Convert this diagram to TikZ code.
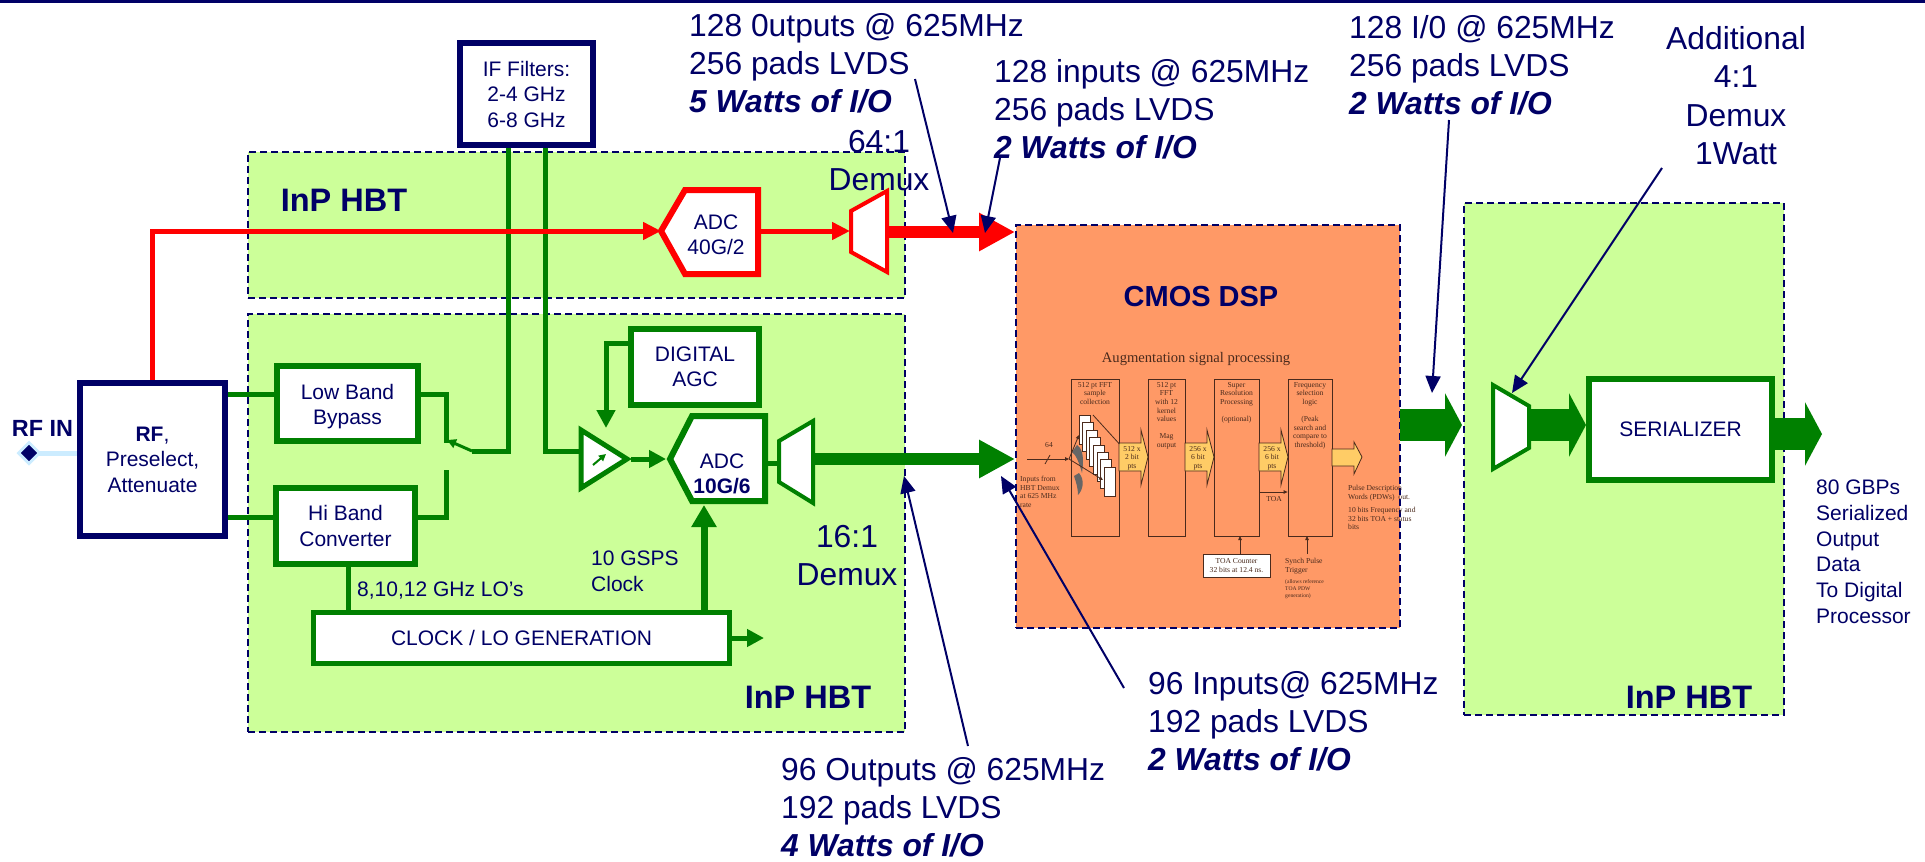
\documentclass[tikz,border=0pt]{standalone}
\usepackage{fontspec}
\setmainfont{Liberation Sans}
\newfontfamily\dspserif{Liberation Serif}
\usetikzlibrary{arrows.meta,shapes.geometric}
\definecolor{navy}{HTML}{000066}
\definecolor{grn}{HTML}{008000}
\definecolor{lime}{HTML}{CCFF99}
\definecolor{salmon}{HTML}{FF9966}
\definecolor{halo}{HTML}{CCECFF}
\definecolor{ink}{HTML}{4A2A1C}
\definecolor{pale}{HTML}{FFCC66}
\newcommand\fsz[2]{\fontsize{#1pt}{#2pt}\selectfont}
\tikzset{
  zone/.style={draw=navy,line width=2pt,dash pattern=on 7pt off 4pt,fill=lime,inner sep=0pt},
  dspzone/.style={zone,fill=salmon},
  gbox/.style={draw=grn,fill=white,line width=6pt,inner sep=0pt,align=center,text=navy,font=\fsz{21}{25.5}},
  nbox/.style={gbox,draw=navy},
  glab/.style={text=navy,inner sep=0pt,align=center,font=\fsz{21}{25.5}},
  call/.style={text=navy,inner sep=0pt,align=left,anchor=north west,font=\fsz{31.8}{38}},
  hbt/.style={text=navy,inner sep=0pt,font=\fsz{32.5}{36}\bfseries},
  gline/.style={draw=grn,line width=5pt},
  rline/.style={draw=red,line width=5pt},
  garrow/.style={gline,-{Triangle[length=17pt,width=17pt]}},
  rarrow/.style={rline,-{Triangle[length=18pt,width=17pt]}},
  bigarrow/.style={line width=12pt,-{Triangle[length=36pt,width=36pt]}},
  fatarrow/.style={draw=grn,line width=32pt,-{Triangle[length=17pt,width=63pt]}},
  callout/.style={draw=navy,line width=2pt,-{Triangle[length=17pt,width=15pt]}},
  dbox/.style={draw=ink,fill=salmon,line width=0.8pt,inner sep=0pt},
  dtext/.style={text=ink,inner sep=0pt,align=center,anchor=north,font=\dspserif\fsz{7.6}{8.6}},
  dleft/.style={dtext,align=left,anchor=north west},
  dfine/.style={dleft,font=\dspserif\fsz{5.6}{7}},
  dblock/.style={draw=ink,fill=pale,line width=0.8pt},
  darrow/.style={draw=ink,line width=0.8pt,-{Triangle[length=4pt,width=3.5pt]}},
  card/.style={draw=ink,fill=white,line width=0.8pt}
}
\begin{document}
\begin{tikzpicture}[x=1pt,y=-1pt]
\useasboundingbox (0,0) rectangle (1925,862);
\fill[navy] (0,0) rectangle (1925,2.5);

% zones
\node (z1) [zone,minimum width=657pt,minimum height=146pt] at (576.5,225) {};
\node (z2) [zone,minimum width=657pt,minimum height=418pt] at (576.5,523) {};
\node (z3) [zone,minimum width=320pt,minimum height=512pt] at (1624,459) {};
\node (dsp) [dspzone,minimum width=384pt,minimum height=403pt] at (1208,426.5) {};

% named anchor points for polygons and connectors
\coordinate (rfin) at (29,453);
\coordinate (redcorner) at (152,231);
\coordinate (ifa) at (508,145);
\coordinate (ifb) at (545,145);
\coordinate (swin) at (472,451);
\coordinate (swout) at (508,451);
\coordinate (swtip) at (447,440);
\coordinate (swl) at (446,394);
\coordinate (swlb) at (446,443);
\coordinate (swh) at (446,517);
\coordinate (swht) at (446,470);
\coordinate (ifbc) at (545,451);

% ADC red
\coordinate (ra1) at (661,231);
\coordinate (ra2) at (685,190);
\coordinate (ra3) at (758,190);
\coordinate (ra4) at (758,274);
\coordinate (ra5) at (685,274);
% demux red
\coordinate (rd1) at (851,211);
\coordinate (rd2) at (887,191);
\coordinate (rd3) at (887,272);
\coordinate (rd4) at (851,252);
% amplifier
\coordinate (am1) at (581,430);
\coordinate (am2) at (581,488);
\coordinate (am3) at (627,459);
% ADC green
\coordinate (ga1) at (670,459);
\coordinate (ga2) at (692,416);
\coordinate (ga3) at (765,416);
\coordinate (ga4) at (765,501);
\coordinate (ga5) at (692,501);
% demux green
\coordinate (gd1) at (779,441);
\coordinate (gd2) at (813,421);
\coordinate (gd3) at (813,503);
\coordinate (gd4) at (779,482);
% demux right
\coordinate (hd1) at (1493,385);
\coordinate (hd2) at (1529,406);
\coordinate (hd3) at (1529,448);
\coordinate (hd4) at (1493,469);

% RF in
\draw[halo,line width=5pt] (rfin) -- (77,453);
\node (rfdia) [diamond,draw=halo,fill=navy,line width=3pt,inner sep=0pt,minimum width=22pt,minimum height=22pt] at (rfin) {};
\node (rfinlab) [text=navy,inner sep=0pt,font=\fsz{23.4}{26}\bfseries] at (42.5,428) {RF IN};

% green connectors beneath boxes
\draw[gline] (226,394) -- (280,394);
\draw[gline] (226,517) -- (280,517);
\draw[gline] (ifa) -- (swout) -- (swin);
\draw[gline] (ifb) -- (ifbc) -- (582,451);
\draw[gline] (421,394) -- (swl) -- (swlb);
\draw[gline] (418,517) -- (swh) -- (swht);
\draw[draw=grn,line width=3pt,-{Triangle[length=9pt,width=9pt]}] (swin) -- (swtip);
\draw[gline] (348,560) -- (348,615);

% red path
\draw[rline] (152,385) -- (redcorner) -- (640,231);
\draw[rarrow] (640,231) -- (ra1);
\draw[rline] (760,231) -- (835,231);
\draw[rarrow] (835,231) -- (850,231);

% boxes
\node (rf) [nbox,minimum width=145pt,minimum height=153pt] at (152.5,459.5) {\textbf{RF},\\Preselect,\\Attenuate};
\node (low) [gbox,minimum width=141pt,minimum height=75pt] at (347.5,403.5) {\rule{0pt}{21pt}Low Band\\Bypass};
\node (hi) [gbox,minimum width=139pt,minimum height=76pt] at (345.5,526) {Hi Band\\Converter};
\node (clk) [gbox,line width=5pt,minimum width=416pt,minimum height=51pt] at (521.5,638) {CLOCK / LO GENERATION};
\node (iff) [nbox,minimum width=133pt,minimum height=102pt] at (526.5,94) {IF Filters:\\2-4 GHz\\6-8 GHz};
\node (agc) [gbox,minimum width=128pt,minimum height=76pt] at (695,367) {DIGITAL\\AGC};
\node (ser) [gbox,minimum width=183pt,minimum height=101pt] at (1680.5,429.5) {SERIALIZER};

% Clock connectors
\node (lolab) [glab,anchor=west] at (357,591) {8,10,12 GHz LO's};
\node (gspslab) [glab,align=left,anchor=north west] at (591,551) {10 GSPS\\Clock};
\draw[draw=grn,line width=7pt,-{Triangle[length=22pt,width=24pt]}] (704,610) -- (704,505);
\draw[garrow] (clk.east) -- (764,638);

% AGC feedback
\draw[draw=grn,line width=5pt,-{Triangle[length=18pt,width=18pt]}] (628,343) -- (606,343) -- (606,428);

% amplifier
\draw[draw=grn,fill=white,line width=5pt,line join=miter] (am1) -- (am2) -- (am3) -- cycle;
\draw[draw=grn,line width=2pt,-{Triangle[length=7pt,width=7pt]}] (593,465) -- (606,454);
\draw[draw=grn,line width=5pt,-{Triangle[length=17pt,width=17pt]}] (631,459) -- (666,459);

% ADC green
\draw[draw=grn,fill=white,line width=6pt,line join=miter] (ga1) -- (ga2) -- (ga3) -- (ga4) -- (ga5) -- cycle;
\node (adcg) [glab] at (722,474) {ADC\\\textbf{10G/6}};
\draw[gline] (768,463) -- (779,463);
\draw[draw=grn,fill=white,line width=4pt,line join=miter] (gd1) -- (gd2) -- (gd3) -- (gd4) -- cycle;

% ADC red
\draw[draw=red,fill=white,line width=6pt,line join=miter] (ra1) -- (ra2) -- (ra3) -- (ra4) -- (ra5) -- cycle;
\node (adcr) [glab] at (716,235) {ADC\\40G/2};

% demux labels
\node (dm64) [text=navy,inner sep=0pt,align=center,font=\fsz{31.8}{38}] at (879,161) {64:1\\Demux};
\node (dm16) [text=navy,inner sep=0pt,align=center,font=\fsz{31.8}{38}] at (847,556) {16:1\\Demux};
\draw[draw=red,fill=white,line width=4pt,line join=miter] (rd1) -- (rd2) -- (rd3) -- (rd4) -- cycle;

% thick arrows
\draw[bigarrow,draw=red] (889,232) -- (dsp.west |- 0,232);
\draw[bigarrow,draw=grn] (815,459) -- (dsp.west |- 0,459);

% zone titles
\node (t1) [hbt] at (344,200) {InP HBT};
\node (t2) [hbt] at (808,697) {InP HBT};
\node (t3) [hbt] at (1689,697) {InP HBT};
\node (t4) [text=navy,inner sep=0pt,font=\fsz{29}{34}\bfseries] at (1201,297) {CMOS DSP};

% DSP inner figure
\node (augt) [text=ink,inner sep=0pt,font=\dspserif\fsz{14.6}{16}] at (1196,359) {Augmentation signal processing};
\node (b1) [dbox,minimum width=48pt,minimum height=157pt] at (1095,457.5) {};
\node (b2) [dbox,minimum width=37pt,minimum height=157pt] at (1166.5,457.5) {};
\node (b3) [dbox,minimum width=45pt,minimum height=157pt] at (1236.5,457.5) {};
\node (b4) [dbox,minimum width=44pt,minimum height=157pt] at (1310,457.5) {};
\node (b1t) [dtext] at (1095,382) {512 pt FFT\\sample\\collection};
\node (b2t) [dtext] at (1166.5,382) {512 pt\\FFT\\with 12\\kernel\\values\\~\\Mag\\output};
\node (b3t) [dtext] at (1236.5,382) {Super\\Resolution\\Processing\\~\\(optional)};
\node (b4t) [dtext] at (1310,382) {Frequency\\selection\\logic\\~\\(Peak\\search and\\compare to\\threshold)};
% block arrows
\draw[dblock] (1119,443) -- (1141,443) -- (1141,430) -- (1148,457) -- (1141,485) -- (1141,471) -- (1119,471) -- cycle;
\draw[dblock] (1185,443) -- (1207,443) -- (1207,430) -- (1214,457) -- (1207,485) -- (1207,471) -- (1185,471) -- cycle;
\draw[dblock] (1259,443) -- (1281,443) -- (1281,430) -- (1288,457) -- (1281,485) -- (1281,471) -- (1259,471) -- cycle;
\draw[dblock] (1332,449) -- (1354,449) -- (1354,442) -- (1362,457) -- (1354,474) -- (1354,466) -- (1332,466) -- cycle;
\node (a1t) [dtext] at (1132,446) {512 x\\2 bit\\pts};
\node (a2t) [dtext] at (1198,446) {256 x\\6 bit\\pts};
\node (a3t) [dtext] at (1272,446) {256 x\\6 bit\\pts};
% input
\coordinate (inp) at (1027,459);
\coordinate (fan) at (1069,459);
\draw[darrow] (inp) -- (fan);
\draw[draw=ink,line width=0.8pt] (1045,464) -- (1050,455);
\node (n64) [dtext] at (1049,442) {64};
\node (inl) [dleft] at (1020,476) {Inputs from\\HBT Demux\\at 625 MHz\\rate};
% fan crescents
\fill[gray!80!black] (1077,445) .. controls (1085,450) and (1083,465) .. (1082,473) .. controls (1079,462) and (1076,455) .. (1072,452) -- cycle;
\fill[gray!80!black] (1079,473) .. controls (1085,480) and (1083,490) .. (1078,495) .. controls (1078,488) and (1076,482) .. (1074,476) -- cycle;
\draw[darrow] (fan) -- (1079,435);
% stack
\foreach \i/\px/\py in {1/1079/415,2/1082.5/422.5,3/1086/430,4/1089.5/437.5,5/1093/445,6/1097/452,7/1100.5/459.5,8/1104/467}{
  \draw[card] (\px,\py) rectangle ++(11.3,29.3);
}
\draw[draw=ink,line width=0.8pt] (1093,415) -- (b1.east |- 0,444);
\draw[darrow] (fan) -- (1103,480);
% TOA
\draw[darrow] (b3.east |- 0,492) -- (b4.west |- 0,492);
\node (toa) [dtext] at (1274,496) {TOA};
\node (toac) [card,inner sep=0pt,minimum width=67pt,minimum height=23pt,align=center,text=ink,font=\dspserif\fsz{7.6}{8.6}] at (1236.5,565.5) {TOA Counter\\32 bits at 12.4 ns.};
\draw[darrow] (1240,554) -- (1240,536);
\coordinate (syn) at (1307,554);
\draw[darrow] (syn) -- (1307,536);
\node (syt) [dleft] at (1285,558) {Synch Pulse\\Trigger};
\node (syf) [dfine] at (1285,579) {(allows reference\\TOA PDW\\generation)};
\node (pd1) [dleft] at (1348,485) {Pulse Description\\Words (PDWs)~ out.};
\node (pd2) [dleft] at (1348,507) {10 bits Frequency and\\32 bits TOA + status\\bits};

% fat arrows on right
\draw[fatarrow] (1400,425) -- (1462,425);
\draw[draw=grn,fill=white,line width=4pt,line join=miter] (hd1) -- (hd2) -- (hd3) -- (hd4) -- cycle;
\draw[fatarrow] (1531,425) -- (ser.west |- 0,425);
\draw[fatarrow] (ser.east |- 0,434) -- (1822,434);
\node (ot) [text=navy,inner sep=0pt,align=left,anchor=north west,font=\fsz{21}{25.7}] at (1816,480) {80 GBPs\\Serialized\\Output\\Data\\To Digital\\Processor};

% callouts
\node (ca) [call] at (689,13) {128 0utputs @ 625MHz\\256 pads LVDS\\\textbf{\textit{5 Watts of I/O}}};
\node (cb) [call] at (994,59) {128 inputs @ 625MHz\\256 pads LVDS\\\textbf{\textit{2 Watts of I/O}}};
\node (cc) [call] at (1349,15) {128 I/0 @ 625MHz\\256 pads LVDS\\\textbf{\textit{2 Watts of I/O}}};
\node (cd) [text=navy,inner sep=0pt,align=center,anchor=north,font=\fsz{31.8}{38.5}] at (1736,26) {Additional\\4:1\\Demux\\1Watt};
\node (ce) [call] at (781,757) {96 Outputs @ 625MHz\\192 pads LVDS\\\textbf{\textit{4 Watts of I/O}}};
\node (cf) [call] at (1148,671) {96 Inputs@ 625MHz\\192 pads LVDS\\\textbf{\textit{2 Watts of I/O}}};
\coordinate (csa) at (915,79);
\coordinate (csb) at (1000,158);
\coordinate (csc) at (1449,120);
\coordinate (csd) at (1662,168);
\coordinate (cse) at (968,746);
\coordinate (csf) at (1124,688);
\draw[callout] (csa) -- (953,233);
\draw[callout] (csb) -- (985,233);
\draw[callout] (csc) -- (1432,393);
\draw[callout] (csd) -- (1512,393);
\draw[callout] (cse) -- (904,476);
\draw[callout] (csf) -- (1001,476);
\end{tikzpicture}
\end{document}
